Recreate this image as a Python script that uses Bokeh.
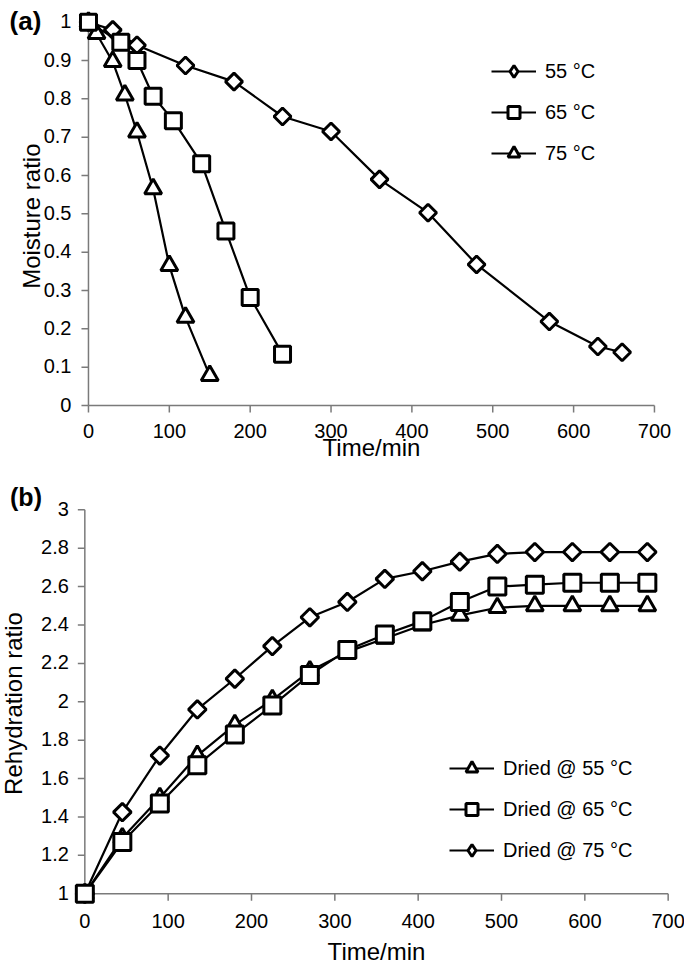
import numpy as np
from bokeh.plotting import figure
from bokeh.layouts import column
from bokeh.models import Range1d, Legend, LegendItem, Label
from bokeh.core.properties import value
from bokeh.embed import file_html
from bokeh.resources import INLINE

FONT = "Liberation Sans"

# ---------------- data: panel (a) drying curves ----------------
t_55 = [0, 30, 60, 120, 180, 240, 300, 360, 420, 480, 570, 630, 660]
mr_55 = [1.0, 0.98, 0.94, 0.887, 0.845, 0.754, 0.715, 0.59, 0.503, 0.368, 0.219, 0.154, 0.139]
t_65 = [0, 40, 60, 80, 105, 140, 170, 200, 240]
mr_65 = [1.0, 0.948, 0.90, 0.807, 0.743, 0.631, 0.455, 0.282, 0.134]
t_75 = [0, 10, 30, 45, 60, 80, 100, 120, 150]
mr_75 = [1.0, 0.97, 0.897, 0.81, 0.713, 0.565, 0.365, 0.23, 0.078]
labels_a = ["55 °C", "65 °C", "75 °C"]

# ---------------- data: panel (b) rehydration curves ----------------
t_b = [0, 45, 90, 135, 180, 225, 270, 315, 360, 405, 450, 495, 540, 585, 630, 675]
rr_55 = [1.0, 1.29, 1.50, 1.72, 1.88, 2.01, 2.16, 2.26, 2.33, 2.40, 2.45, 2.49, 2.50, 2.50, 2.50, 2.50]
rr_65 = [1.0, 1.27, 1.47, 1.67, 1.83, 1.98, 2.14, 2.27, 2.35, 2.42, 2.52, 2.60, 2.61, 2.62, 2.62, 2.62]
rr_75 = [1.0, 1.425, 1.72, 1.96, 2.12, 2.29, 2.44, 2.52, 2.64, 2.68, 2.73, 2.77, 2.78, 2.78, 2.78, 2.78]
labels_b = ["Dried @ 55 °C", "Dried @ 65 °C", "Dried @ 75 °C"]

# ---------------- ticks ----------------
x_ticks = [0, 100, 200, 300, 400, 500, 600, 700]
x_tick_labels = ["0", "100", "200", "300", "400", "500", "600", "700"]
y_ticks_a = [0, 0.1, 0.2, 0.3, 0.4, 0.5, 0.6, 0.7, 0.8, 0.9, 1.0]
y_tick_labels_a = ["0", "0.1", "0.2", "0.3", "0.4", "0.5", "0.6", "0.7", "0.8", "0.9", "1"]
y_ticks_b = [1.0, 1.2, 1.4, 1.6, 1.8, 2.0, 2.2, 2.4, 2.6, 2.8, 3.0]
y_tick_labels_b = ["1", "1.2", "1.4", "1.6", "1.8", "2", "2.2", "2.4", "2.6", "2.8", "3"]

AXIS_GRAY = "#7a7a7a"
W = 684


def make_fig(h, xr, yr, yticks, yticklabels, ylab_off, xlab_off):
    p = figure(frame_width=W, frame_height=h,
               x_range=Range1d(*xr), y_range=Range1d(*yr),
               min_border_left=0, min_border_right=0,
               min_border_top=0, min_border_bottom=0,
               output_backend="svg", toolbar_location=None)
    p.grid.visible = False
    p.axis.visible = False
    p.outline_line_color = None
    # axis rules and tick marks, crossing at the first tick of each axis
    x0, y0 = x_ticks[0], yticks[0]
    p.segment(x0=[x0], y0=[y0], x1=[x0], y1=[yticks[-1]], line_color=AXIS_GRAY, line_width=1.5)
    p.segment(x0=[x0], y0=[y0], x1=[x_ticks[-1]], y1=[y0], line_color=AXIS_GRAY, line_width=1.5)
    p.ray(x=[x0] * len(yticks), y=yticks, length=7, length_units="screen",
          angle=np.pi, line_color=AXIS_GRAY, line_width=1.5)
    p.ray(x=x_ticks, y=[y0] * len(x_ticks), length=7, length_units="screen",
          angle=-np.pi / 2, line_color=AXIS_GRAY, line_width=1.5)
    # tick labels
    p.text(x=[x0] * len(yticks), y=yticks, text=yticklabels, x_offset=ylab_off, y_offset=-1,
           text_align="right", text_baseline="middle", text_font=value(FONT),
           text_font_size=value("20px"), text_color="black")
    p.text(x=x_ticks, y=[y0] * len(x_ticks), text=x_tick_labels, y_offset=xlab_off,
           text_align="center", text_baseline="middle", text_font=value(FONT),
           text_font_size=value("20px"), text_color="black")
    return p


def series(p, x, y, marker, size, angle=0.0, legend_marker=None):
    r_line = p.line(x, y, line_color="black", line_width=2.2)
    r_pts = p.scatter(x, y, marker=marker, size=size, angle=angle,
                      fill_color="white", line_color="black", line_width=3)
    if legend_marker is None:
        return [r_line, r_pts]
    # legend swatch (first point only, hidden under the other markers)
    proxy = p.scatter(x=x[:1], y=y[:1], marker=legend_marker, size=size,
                      fill_color="white", line_color="black", line_width=3)
    return [r_line, proxy]


def add_legend(p, items, loc):
    leg = Legend(items=items, location=loc, padding=0, spacing=11, margin=0,
                 glyph_width=45, glyph_height=30, label_standoff=9,
                 label_text_font=FONT, label_text_font_size="20px",
                 label_text_color="black",
                 border_line_color=None, background_fill_alpha=0)
    p.add_layout(leg, "center")


def text(p, x, y, s, size, angle=0.0, bold=False):
    p.add_layout(Label(x=x, y=y, text=s, angle=angle, text_align="center",
                       text_baseline="middle", text_font=FONT, text_font_size=size,
                       text_font_style="bold" if bold else "normal", text_color="black"))


# ---------------- panel (a) ----------------
pa = make_fig(478, (-108.8, 737.16), (-0.19043, 1.0566),
              y_ticks_a, y_tick_labels_a, -17, 25)
ra55 = series(pa, t_55, mr_55, "square", 12, np.pi / 4, legend_marker="diamond")
ra75 = series(pa, t_75, mr_75, "triangle", 17)
ra65 = series(pa, t_65, mr_65, "square", 16)
add_legend(pa, [LegendItem(label=labels_a[0], renderers=ra55),
                LegendItem(label=labels_a[1], renderers=ra65),
                LegendItem(label=labels_a[2], renderers=ra75)], (491, 310))
text(pa, -77.9, 1.002, "(a)", "26px", bold=True)
text(pa, -70.5, 0.494, "Moisture ratio", "24px", angle=np.pi / 2)
text(pa, 350, -0.1096, "Time/min", "24px")

# ---------------- panel (b) ----------------
pb = make_fig(489, (-101.2, 719.6), (0.6159, 3.163),
              y_ticks_b, y_tick_labels_b, -16, 27)
rb75 = series(pb, t_b, rr_75, "square", 12.5, np.pi / 4, legend_marker="diamond")
rb55 = series(pb, t_b, rr_55, "triangle", 17)
rb65 = series(pb, t_b, rr_65, "square", 17)
add_legend(pb, [LegendItem(label=labels_b[0], renderers=rb55),
                LegendItem(label=labels_b[1], renderers=rb65),
                LegendItem(label=labels_b[2], renderers=rb75)], (449, 102))
text(pb, -70.6, 3.069, "(b)", "25px", bold=True)
text(pb, -85.9, 1.991, "Rehydration ratio", "24px", angle=np.pi / 2)
text(pb, 350, 0.6995, "Time/min", "24px")

layout = column(pa, pb, spacing=0)
open("out.html", "w").write(file_html(layout, INLINE))
